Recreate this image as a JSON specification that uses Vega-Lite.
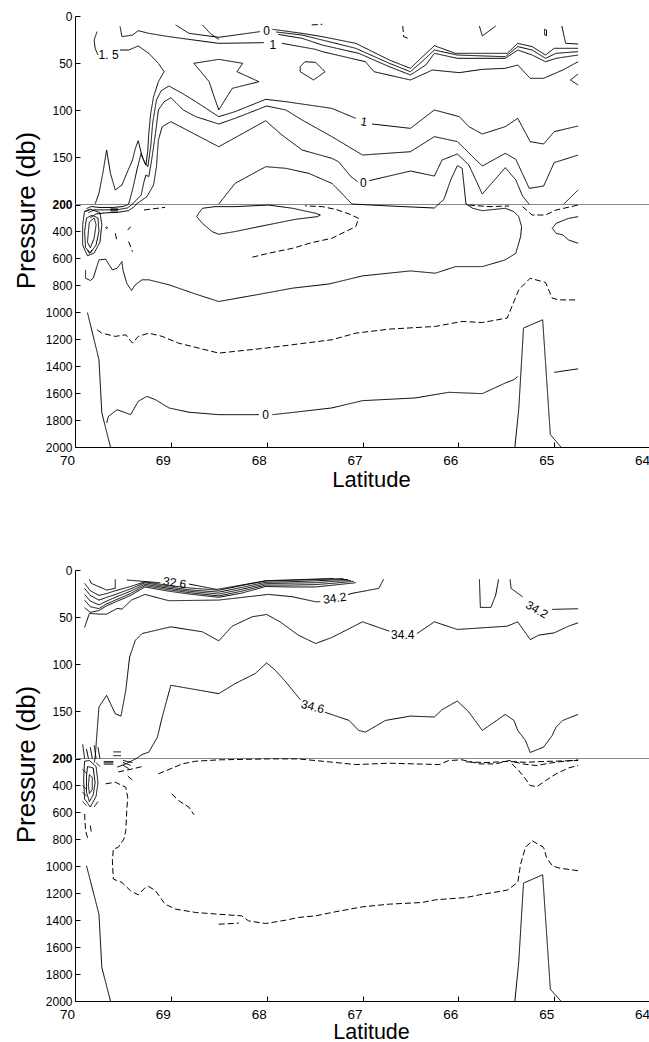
{
"$schema":"https://vega.github.io/schema/vega-lite/v6.json",
"background":"white",
"padding":{"left":13,"top":10,"right":0,"bottom":0},
"config":{"view":{"stroke":null},"font":"Liberation Sans","axis":{"labelFont":"Liberation Sans","titleFont":"Liberation Sans","labelColor":"black","titleColor":"black","domainColor":"black","tickColor":"black","grid":false,"titleFontWeight":"normal","labelFlush":false,"labelOverlap":false,"labelBound":false}},
"datasets":{
"t":[
{"c":"a","s":"a","x":69.77,"y":16.6},{"c":"a","s":"a","x":69.80,"y":25.5},{"c":"a","s":"a","x":69.79,"y":34.3},{"c":"a","s":"a","x":69.76,"y":41.4},
{"c":"b","s":"a","x":69.53,"y":36.1},{"c":"b","s":"a","x":69.44,"y":36.1},{"c":"b","s":"a","x":69.34,"y":31.8},{"c":"b","s":"a","x":69.23,"y":39.6},{"c":"b","s":"a","x":69.13,"y":50.2},{"c":"b","s":"a","x":69.07,"y":59.1},{"c":"b","s":"a","x":69.13,"y":69.7},{"c":"b","s":"a","x":69.18,"y":85.6},{"c":"b","s":"a","x":69.21,"y":103.3},{"c":"b","s":"a","x":69.23,"y":124.5},{"c":"b","s":"a","x":69.24,"y":142.2},{"c":"b","s":"a","x":69.26,"y":158.1},{"c":"b","s":"a","x":69.30,"y":149.3},{"c":"b","s":"a","x":69.34,"y":132.3},{"c":"b","s":"a","x":69.37,"y":140.4},{"c":"b","s":"a","x":69.40,"y":152.8},{"c":"b","s":"a","x":69.46,"y":167},{"c":"b","s":"a","x":69.51,"y":179.3},{"c":"b","s":"a","x":69.58,"y":184.6},{"c":"b","s":"a","x":69.63,"y":167},{"c":"b","s":"a","x":69.67,"y":142.2},{"c":"b","s":"a","x":69.71,"y":167},{"c":"b","s":"a","x":69.75,"y":188},{"c":"b","s":"a","x":69.79,"y":199.5},
{"c":"c","s":"a","x":69.44,"y":199.5},{"c":"c","s":"a","x":69.40,"y":184.6},{"c":"c","s":"a","x":69.35,"y":161.6},{"c":"c","s":"a","x":69.31,"y":145.7},{"c":"c","s":"a","x":69.27,"y":156.3},{"c":"c","s":"a","x":69.24,"y":159.9},{"c":"c","s":"a","x":69.21,"y":138.7},{"c":"c","s":"a","x":69.19,"y":113.9},{"c":"c","s":"a","x":69.15,"y":89.1},{"c":"c","s":"a","x":69.10,"y":79.2},{"c":"c","s":"a","x":69.02,"y":74.3},{"c":"c","s":"a","x":68.88,"y":82.1},{"c":"c","s":"a","x":68.74,"y":90.9},{"c":"c","s":"a","x":68.50,"y":106.8},{"c":"c","s":"a","x":68.33,"y":101.5},{"c":"c","s":"a","x":68.01,"y":88.4},{"c":"c","s":"a","x":67.80,"y":90.9},{"c":"c","s":"a","x":67.32,"y":98},{"c":"c","s":"a","x":67.07,"y":108.6},
{"c":"c2","s":"a","x":66.90,"y":114.6},{"c":"c2","s":"a","x":66.50,"y":119.2},{"c":"c2","s":"a","x":66.25,"y":99.7},{"c":"c2","s":"a","x":65.99,"y":106.8},{"c":"c2","s":"a","x":65.89,"y":117.4},{"c":"c2","s":"a","x":65.75,"y":125.2},{"c":"c2","s":"a","x":65.51,"y":117.4},{"c":"c2","s":"a","x":65.38,"y":108.6},{"c":"c2","s":"a","x":65.25,"y":133.3},{"c":"c2","s":"a","x":65.11,"y":135.8},{"c":"c2","s":"a","x":65.00,"y":122.7},{"c":"c2","s":"a","x":64.75,"y":116.7},
{"c":"d","s":"a","x":69.40,"y":199.5},{"c":"d","s":"a","x":69.31,"y":190},{"c":"d","s":"a","x":69.28,"y":175.8},{"c":"d","s":"a","x":69.26,"y":168.7},{"c":"d","s":"a","x":69.23,"y":170.5},{"c":"d","s":"a","x":69.20,"y":152.8},{"c":"d","s":"a","x":69.16,"y":124.5},{"c":"d","s":"a","x":69.13,"y":99.7},{"c":"d","s":"a","x":69.07,"y":90.9},{"c":"d","s":"a","x":69.00,"y":86.7},{"c":"d","s":"a","x":68.87,"y":99.7},{"c":"d","s":"a","x":68.74,"y":106.8},{"c":"d","s":"a","x":68.50,"y":114.6},{"c":"d","s":"a","x":68.33,"y":108.6},{"c":"d","s":"a","x":68.00,"y":95.5},{"c":"d","s":"a","x":67.80,"y":99.7},{"c":"d","s":"a","x":67.63,"y":110.4},{"c":"d","s":"a","x":67.32,"y":128},{"c":"d","s":"a","x":67.00,"y":147.5},{"c":"d","s":"a","x":66.50,"y":144},{"c":"d","s":"a","x":66.25,"y":128},{"c":"d","s":"a","x":66.01,"y":133.3},{"c":"d","s":"a","x":65.75,"y":159.2},{"c":"d","s":"a","x":65.51,"y":145.7},{"c":"d","s":"a","x":65.40,"y":152.1},{"c":"d","s":"a","x":65.26,"y":182.9},{"c":"d","s":"a","x":65.11,"y":180.4},{"c":"d","s":"a","x":65.00,"y":155.6},{"c":"d","s":"a","x":64.75,"y":147.5},
{"c":"e","s":"a","x":69.36,"y":199.5},{"c":"e","s":"a","x":69.25,"y":191.7},{"c":"e","s":"a","x":69.21,"y":184.6},{"c":"e","s":"a","x":69.18,"y":179.3},{"c":"e","s":"a","x":69.15,"y":159.9},{"c":"e","s":"a","x":69.13,"y":131.6},{"c":"e","s":"a","x":69.09,"y":117.4},{"c":"e","s":"a","x":69.00,"y":112.1},{"c":"e","s":"a","x":68.50,"y":138.7},{"c":"e","s":"a","x":68.01,"y":111.1},{"c":"e","s":"a","x":67.84,"y":126.3},{"c":"e","s":"a","x":67.63,"y":142.2},{"c":"e","s":"a","x":67.32,"y":151},{"c":"e","s":"a","x":67.25,"y":154.6},{"c":"e","s":"a","x":67.12,"y":170.5},{"c":"e","s":"a","x":67.05,"y":175.8},
{"c":"e2","s":"a","x":66.93,"y":174.7},{"c":"e2","s":"a","x":66.50,"y":164.5},{"c":"e2","s":"a","x":66.25,"y":169.8},{"c":"e2","s":"a","x":66.17,"y":152.8},{"c":"e2","s":"a","x":66.01,"y":146.4},{"c":"e2","s":"a","x":65.89,"y":158.1},{"c":"e2","s":"a","x":65.75,"y":188.9},{"c":"e2","s":"a","x":65.51,"y":160.9},{"c":"e2","s":"a","x":65.40,"y":174},{"c":"e2","s":"a","x":65.33,"y":191},{"c":"e2","s":"a","x":65.26,"y":199.9},
{"c":"f","s":"a","x":64.90,"y":199.5},{"c":"f","s":"a","x":64.75,"y":184.6},
{"c":"g","s":"a","x":68.50,"y":199.5},{"c":"g","s":"a","x":68.33,"y":177.6},{"c":"g","s":"a","x":68.01,"y":159.9},{"c":"g","s":"a","x":67.80,"y":161.6},{"c":"g","s":"a","x":67.56,"y":167},{"c":"g","s":"a","x":67.32,"y":177.6},{"c":"g","s":"a","x":67.25,"y":184.6},{"c":"g","s":"a","x":67.11,"y":199.5},{"c":"g","s":"a","x":66.72,"y":211},{"c":"g","s":"a","x":66.25,"y":226},{"c":"g","s":"a","x":66.15,"y":194.5},{"c":"g","s":"a","x":66.08,"y":174},{"c":"g","s":"a","x":66.01,"y":158.8},{"c":"g","s":"a","x":65.96,"y":161.6},{"c":"g","s":"a","x":65.92,"y":199.5},{"c":"g","s":"a","x":65.85,"y":228},{"c":"g","s":"a","x":65.75,"y":246},{"c":"g","s":"a","x":65.51,"y":228},{"c":"g","s":"a","x":65.42,"y":253},{"c":"g","s":"a","x":65.37,"y":290},{"c":"g","s":"a","x":65.34,"y":364},{"c":"g","s":"a","x":65.35,"y":438},{"c":"g","s":"a","x":65.40,"y":562},{"c":"g","s":"a","x":65.51,"y":611},{"c":"g","s":"a","x":65.75,"y":661},{"c":"g","s":"a","x":66.03,"y":661},{"c":"g","s":"a","x":66.24,"y":710},{"c":"g","s":"a","x":66.50,"y":693},{"c":"g","s":"a","x":67.00,"y":730},{"c":"g","s":"a","x":67.35,"y":790},{"c":"g","s":"a","x":67.73,"y":821},{"c":"g","s":"a","x":68.05,"y":863},{"c":"g","s":"a","x":68.50,"y":920},{"c":"g","s":"a","x":68.74,"y":865},{"c":"g","s":"a","x":69.02,"y":796},{"c":"g","s":"a","x":69.23,"y":759},{"c":"g","s":"a","x":69.30,"y":759},{"c":"g","s":"a","x":69.37,"y":796},{"c":"g","s":"a","x":69.41,"y":838},{"c":"g","s":"a","x":69.46,"y":784},{"c":"g","s":"a","x":69.50,"y":685},{"c":"g","s":"a","x":69.51,"y":624},{"c":"g","s":"a","x":69.56,"y":673},{"c":"g","s":"a","x":69.61,"y":685},{"c":"g","s":"a","x":69.68,"y":606},{"c":"g","s":"a","x":69.75,"y":611},{"c":"g","s":"a","x":69.81,"y":747},{"c":"g","s":"a","x":69.84,"y":764},{"c":"g","s":"a","x":69.89,"y":747},{"c":"g","s":"a","x":69.89,"y":685},
{"c":"h","s":"a","x":68.71,"y":265},{"c":"h","s":"a","x":68.67,"y":228},{"c":"h","s":"a","x":68.54,"y":216},{"c":"h","s":"a","x":68.33,"y":216},{"c":"h","s":"a","x":67.98,"y":204},{"c":"h","s":"a","x":67.73,"y":228},{"c":"h","s":"a","x":67.49,"y":265},{"c":"h","s":"a","x":67.44,"y":278},{"c":"h","s":"a","x":67.47,"y":290},{"c":"h","s":"a","x":67.70,"y":310},{"c":"h","s":"a","x":67.91,"y":340},{"c":"h","s":"a","x":68.08,"y":364},{"c":"h","s":"a","x":68.33,"y":401},{"c":"h","s":"a","x":68.50,"y":421},{"c":"h","s":"a","x":68.57,"y":401},{"c":"h","s":"a","x":68.67,"y":340},{"c":"h","s":"a","x":68.73,"y":290},{"c":"h","s":"a","x":68.71,"y":265},
{"c":"i","s":"b","x":68.15,"y":591},{"c":"i","s":"b","x":67.98,"y":562},{"c":"i","s":"b","x":67.73,"y":525},{"c":"i","s":"b","x":67.53,"y":483},{"c":"i","s":"b","x":67.32,"y":451},{"c":"i","s":"b","x":67.25,"y":426},{"c":"i","s":"b","x":67.07,"y":364},{"c":"i","s":"b","x":67.04,"y":303},{"c":"i","s":"b","x":67.14,"y":270},{"c":"i","s":"b","x":67.28,"y":236},{"c":"i","s":"b","x":67.42,"y":216},{"c":"i","s":"b","x":67.60,"y":210},
{"c":"j","s":"b","x":69.28,"y":241},{"c":"j","s":"b","x":69.06,"y":221},
{"c":"j2","s":"b","x":69.58,"y":414},{"c":"j2","s":"b","x":69.56,"y":476},
{"c":"j3","s":"b","x":69.45,"y":390},{"c":"j3","s":"b","x":69.42,"y":365},
{"c":"j4","s":"b","x":69.44,"y":475},{"c":"j4","s":"b","x":69.40,"y":550},
{"c":"j5","s":"b","x":69.89,"y":253},{"c":"j5","s":"b","x":69.84,"y":236},
{"c":"k","s":"a","x":64.75,"y":290},{"c":"k","s":"a","x":64.85,"y":303},{"c":"k","s":"a","x":64.98,"y":340},{"c":"k","s":"a","x":65.02,"y":377},{"c":"k","s":"a","x":64.98,"y":414},{"c":"k","s":"a","x":64.91,"y":426},{"c":"k","s":"a","x":64.85,"y":463},{"c":"k","s":"a","x":64.75,"y":488},
{"c":"l","s":"b","x":65.33,"y":216},{"c":"l","s":"b","x":65.23,"y":278},{"c":"l","s":"b","x":65.09,"y":278},{"c":"l","s":"b","x":64.98,"y":241},{"c":"l","s":"b","x":64.75,"y":204},
{"c":"m","s":"b","x":65.89,"y":204},{"c":"m","s":"b","x":65.68,"y":216},{"c":"m","s":"b","x":65.47,"y":211},
{"c":"n","s":"b","x":69.77,"y":1130},{"c":"n","s":"b","x":69.72,"y":1155},{"c":"n","s":"b","x":69.58,"y":1179},{"c":"n","s":"b","x":69.47,"y":1167},{"c":"n","s":"b","x":69.40,"y":1229},{"c":"n","s":"b","x":69.34,"y":1179},{"c":"n","s":"b","x":69.23,"y":1155},{"c":"n","s":"b","x":69.09,"y":1179},{"c":"n","s":"b","x":68.92,"y":1229},{"c":"n","s":"b","x":68.50,"y":1303},{"c":"n","s":"b","x":68.01,"y":1266},{"c":"n","s":"b","x":67.32,"y":1204},{"c":"n","s":"b","x":67.07,"y":1155},{"c":"n","s":"b","x":66.72,"y":1125},{"c":"n","s":"b","x":66.24,"y":1105},{"c":"n","s":"b","x":65.96,"y":1068},{"c":"n","s":"b","x":65.75,"y":1076},{"c":"n","s":"b","x":65.49,"y":1043},{"c":"n","s":"b","x":65.37,"y":834},{"c":"n","s":"b","x":65.25,"y":747},{"c":"n","s":"b","x":65.09,"y":779},{"c":"n","s":"b","x":65.02,"y":895},{"c":"n","s":"b","x":64.95,"y":908},{"c":"n","s":"b","x":64.75,"y":908},
{"c":"o","s":"a","x":69.67,"y":1822},{"c":"o","s":"a","x":69.65,"y":1772},{"c":"o","s":"a","x":69.56,"y":1723},{"c":"o","s":"a","x":69.47,"y":1747},{"c":"o","s":"a","x":69.42,"y":1760},{"c":"o","s":"a","x":69.34,"y":1661},{"c":"o","s":"a","x":69.25,"y":1624},{"c":"o","s":"a","x":69.16,"y":1649},{"c":"o","s":"a","x":69.02,"y":1710},{"c":"o","s":"a","x":68.81,"y":1742},{"c":"o","s":"a","x":68.50,"y":1760},{"c":"o","s":"a","x":68.08,"y":1760},
{"c":"o2","s":"a","x":67.94,"y":1760},{"c":"o2","s":"a","x":67.77,"y":1747},{"c":"o2","s":"a","x":67.32,"y":1710},{"c":"o2","s":"a","x":67.00,"y":1656},{"c":"o2","s":"a","x":66.45,"y":1636},{"c":"o2","s":"a","x":66.10,"y":1594},{"c":"o2","s":"a","x":65.75,"y":1604},{"c":"o2","s":"a","x":65.51,"y":1525},{"c":"o2","s":"a","x":65.42,"y":1500},{"c":"o2","s":"a","x":65.38,"y":1476},
{"c":"p","s":"a","x":69.87,"y":1002},{"c":"p","s":"a","x":69.75,"y":1352},{"c":"p","s":"a","x":69.72,"y":1747},{"c":"p","s":"a","x":69.63,"y":2000},
{"c":"q","s":"a","x":65.41,"y":2000},{"c":"q","s":"a","x":65.37,"y":1723},{"c":"q","s":"a","x":65.32,"y":1117},{"c":"q","s":"a","x":65.12,"y":1056},{"c":"q","s":"a","x":65.04,"y":1908},{"c":"q","s":"a","x":64.93,"y":2000},
{"c":"r","s":"a","x":65.00,"y":1446},{"c":"r","s":"a","x":64.85,"y":1430},{"c":"r","s":"a","x":64.75,"y":1420},
{"c":"s","s":"a","x":68.95,"y":9.5},{"c":"s","s":"a","x":68.81,"y":18.4},{"c":"s","s":"a","x":68.50,"y":22.6},{"c":"s","s":"a","x":68.07,"y":16.6},
{"c":"s2","s":"a","x":67.94,"y":14.1},{"c":"s2","s":"a","x":67.63,"y":18.4},{"c":"s2","s":"a","x":67.42,"y":21.9},{"c":"s2","s":"a","x":67.07,"y":29},{"c":"s2","s":"a","x":66.72,"y":46.7},{"c":"s2","s":"a","x":66.50,"y":55.5},{"c":"s2","s":"a","x":66.41,"y":46.7},{"c":"s2","s":"a","x":66.25,"y":31.5},{"c":"s2","s":"a","x":66.03,"y":39.6},{"c":"s2","s":"a","x":65.49,"y":39.6},{"c":"s2","s":"a","x":65.38,"y":29},{"c":"s2","s":"a","x":65.23,"y":32.5},{"c":"s2","s":"a","x":65.09,"y":41.4},{"c":"s2","s":"a","x":65.00,"y":34.3},{"c":"s2","s":"a","x":64.75,"y":34.3},
{"c":"u","s":"a","x":67.90,"y":17},{"c":"u","s":"a","x":67.63,"y":20.2},{"c":"u","s":"a","x":67.42,"y":25.5},{"c":"u","s":"a","x":67.07,"y":34.3},{"c":"u","s":"a","x":66.72,"y":50.2},{"c":"u","s":"a","x":66.50,"y":59.1},{"c":"u","s":"a","x":66.38,"y":48.5},{"c":"u","s":"a","x":66.25,"y":36.1},{"c":"u","s":"a","x":66.01,"y":41.4},{"c":"u","s":"a","x":65.51,"y":43.2},{"c":"u","s":"a","x":65.38,"y":32.5},{"c":"u","s":"a","x":65.23,"y":36.1},{"c":"u","s":"a","x":65.09,"y":44.9},{"c":"u","s":"a","x":64.98,"y":39.6},{"c":"u","s":"a","x":64.75,"y":37.8},
{"c":"v","s":"a","x":67.88,"y":19.5},{"c":"v","s":"a","x":67.63,"y":23.7},{"c":"v","s":"a","x":67.42,"y":30.8},{"c":"v","s":"a","x":67.04,"y":39.6},{"c":"v","s":"a","x":66.72,"y":53.8},{"c":"v","s":"a","x":66.50,"y":62.6},{"c":"v","s":"a","x":66.34,"y":52},{"c":"v","s":"a","x":66.25,"y":39.6},{"c":"v","s":"a","x":66.01,"y":44.9},{"c":"v","s":"a","x":65.51,"y":44.9},{"c":"v","s":"a","x":65.38,"y":36.1},{"c":"v","s":"a","x":65.23,"y":41.4},{"c":"v","s":"a","x":65.09,"y":48.5},{"c":"v","s":"a","x":64.98,"y":44.9},{"c":"v","s":"a","x":64.75,"y":41.4},
{"c":"w","s":"a","x":69.53,"y":11},{"c":"w","s":"a","x":69.51,"y":21.9},{"c":"w","s":"a","x":69.40,"y":20.2},{"c":"w","s":"a","x":69.34,"y":15.6},{"c":"w","s":"a","x":69.23,"y":18.4},{"c":"w","s":"a","x":69.02,"y":21.9},{"c":"w","s":"a","x":68.81,"y":24.8},{"c":"w","s":"a","x":68.50,"y":29},{"c":"w","s":"a","x":68.03,"y":28.3},
{"c":"w2","s":"a","x":67.84,"y":29},{"c":"w2","s":"a","x":67.49,"y":35.4},{"c":"w2","s":"a","x":67.42,"y":37.8},{"c":"w2","s":"a","x":66.97,"y":48.5},{"c":"w2","s":"a","x":66.88,"y":59.1},{"c":"w2","s":"a","x":66.50,"y":67.9},{"c":"w2","s":"a","x":66.27,"y":57.3},{"c":"w2","s":"a","x":65.99,"y":60.1},{"c":"w2","s":"a","x":65.75,"y":56.6},{"c":"w2","s":"a","x":65.51,"y":55.5},{"c":"w2","s":"a","x":65.38,"y":52},{"c":"w2","s":"a","x":65.25,"y":66.1},{"c":"w2","s":"a","x":65.11,"y":66.1},{"c":"w2","s":"a","x":64.91,"y":57.3},{"c":"w2","s":"a","x":64.75,"y":48.5},
{"c":"x","s":"a","x":68.67,"y":9.5},{"c":"x","s":"a","x":68.59,"y":18.4},{"c":"x","s":"a","x":68.50,"y":24.8},
{"c":"tri","s":"a","x":68.76,"y":50.2},{"c":"tri","s":"a","x":68.50,"y":46},{"c":"tri","s":"a","x":68.25,"y":50.2},{"c":"tri","s":"a","x":68.31,"y":59.1},{"c":"tri","s":"a","x":68.08,"y":69.7},{"c":"tri","s":"a","x":68.36,"y":76.8},{"c":"tri","s":"a","x":68.50,"y":99.7},{"c":"tri","s":"a","x":68.56,"y":82.1},{"c":"tri","s":"a","x":68.60,"y":69.7},{"c":"tri","s":"a","x":68.76,"y":50.2},
{"c":"lp","s":"a","x":67.65,"y":53.8},{"c":"lp","s":"a","x":67.60,"y":48.5},{"c":"lp","s":"a","x":67.49,"y":49.2},{"c":"lp","s":"a","x":67.39,"y":59.1},{"c":"lp","s":"a","x":67.51,"y":67.9},{"c":"lp","s":"a","x":67.65,"y":59.1},{"c":"lp","s":"a","x":67.65,"y":53.8},
{"c":"z","s":"b","x":67.53,"y":9.5},{"c":"z","s":"b","x":67.42,"y":8.8},
{"c":"aa","s":"b","x":66.58,"y":10.6},{"c":"aa","s":"b","x":66.57,"y":21.9},{"c":"aa","s":"b","x":66.50,"y":24.8},
{"c":"ab","s":"a","x":65.78,"y":10.6},{"c":"ab","s":"a","x":65.75,"y":21.2},{"c":"ab","s":"a","x":65.61,"y":10.6},
{"c":"ac","s":"a","x":65.10,"y":14},{"c":"ac","s":"a","x":65.08,"y":15},{"c":"ac","s":"a","x":65.08,"y":21},{"c":"ac","s":"a","x":65.10,"y":20},{"c":"ac","s":"a","x":65.10,"y":14},
{"c":"ad","s":"a","x":64.92,"y":10.6},{"c":"ad","s":"a","x":64.88,"y":29},{"c":"ad","s":"a","x":64.75,"y":29.7},
{"c":"ae","s":"a","x":64.75,"y":61.5},{"c":"ae","s":"a","x":64.83,"y":67.9},{"c":"ae","s":"a","x":64.75,"y":73.2},
{"c":"D1","s":"a","x":69.88,"y":230},{"c":"D1","s":"a","x":69.83,"y":215},{"c":"D1","s":"a","x":69.75,"y":222},{"c":"D1","s":"a","x":69.60,"y":222},{"c":"D1","s":"a","x":69.50,"y":215},{"c":"D1","s":"a","x":69.46,"y":205},{"c":"D1","s":"a","x":69.44,"y":199.5},
{"c":"D2","s":"a","x":69.86,"y":260},{"c":"D2","s":"a","x":69.80,"y":240},{"c":"D2","s":"a","x":69.70,"y":240},{"c":"D2","s":"a","x":69.55,"y":238},{"c":"D2","s":"a","x":69.45,"y":225},{"c":"D2","s":"a","x":69.40,"y":199.5},
{"c":"D3","s":"a","x":69.84,"y":300},{"c":"D3","s":"a","x":69.78,"y":270},{"c":"D3","s":"a","x":69.68,"y":262},{"c":"D3","s":"a","x":69.55,"y":258},{"c":"D3","s":"a","x":69.44,"y":245},{"c":"D3","s":"a","x":69.38,"y":215},{"c":"D3","s":"a","x":69.36,"y":199.5},
{"c":"D4","s":"a","x":69.85,"y":330},{"c":"D4","s":"a","x":69.80,"y":300},{"c":"D4","s":"a","x":69.78,"y":350},{"c":"D4","s":"a","x":69.80,"y":450},{"c":"D4","s":"a","x":69.84,"y":520},{"c":"D4","s":"a","x":69.87,"y":480},{"c":"D4","s":"a","x":69.86,"y":400},{"c":"D4","s":"a","x":69.85,"y":330},
{"c":"D5","s":"a","x":69.88,"y":300},{"c":"D5","s":"a","x":69.82,"y":280},{"c":"D5","s":"a","x":69.76,"y":300},{"c":"D5","s":"a","x":69.75,"y":400},{"c":"D5","s":"a","x":69.78,"y":500},{"c":"D5","s":"a","x":69.84,"y":560},{"c":"D5","s":"a","x":69.89,"y":520},{"c":"D5","s":"a","x":69.90,"y":400},{"c":"D5","s":"a","x":69.88,"y":300},
{"c":"D6","s":"a","x":69.90,"y":250},{"c":"D6","s":"a","x":69.84,"y":235},{"c":"D6","s":"a","x":69.74,"y":260},{"c":"D6","s":"a","x":69.72,"y":350},{"c":"D6","s":"a","x":69.74,"y":480},{"c":"D6","s":"a","x":69.80,"y":560},{"c":"D6","s":"a","x":69.87,"y":580},{"c":"D6","s":"a","x":69.92,"y":500},{"c":"D6","s":"a","x":69.92,"y":350},{"c":"D6","s":"a","x":69.90,"y":250},
{"c":"D7","s":"a","x":69.63,"y":232},{"c":"D7","s":"a","x":69.55,"y":232},
{"c":"D8","s":"a","x":69.63,"y":240},{"c":"D8","s":"a","x":69.55,"y":240},
{"c":"D9","s":"a","x":69.63,"y":248},{"c":"D9","s":"a","x":69.55,"y":248},
{"c":"dot","s":"a","x":69.67,"y":368},{"c":"dot","s":"a","x":69.66,"y":372},{"c":"dot","s":"a","x":69.67,"y":378},{"c":"dot","s":"a","x":69.68,"y":372},{"c":"dot","s":"a","x":69.67,"y":368},
{"c":"U","s":"a","x":69.87,"y":537},{"c":"U","s":"a","x":69.85,"y":562},{"c":"U","s":"a","x":69.82,"y":537}
],
"tl":[
{"x":69.65,"y":41.4,"t":"1. 5","a":0},
{"x":68.00,"y":15.5,"t":"0","a":0},
{"x":67.935,"y":30.5,"t":"1","a":0},
{"x":66.985,"y":112,"t":"1","a":10},
{"x":66.99,"y":177,"t":"0","a":0},
{"x":68.01,"y":1760,"t":"0","a":0}
],
"s":[
{"c":"h1","s":"a","x":69.85,"y":9.9},{"c":"h1","s":"a","x":69.83,"y":14.2},{"c":"h1","s":"a","x":69.75,"y":17.7},{"c":"h1","s":"a","x":69.67,"y":21.3},{"c":"h1","s":"a","x":69.58,"y":19.5},{"c":"h1","s":"a","x":69.58,"y":9.9},
{"c":"g1","s":"a","x":69.46,"y":10.6},{"c":"g1","s":"a","x":69.25,"y":12.4},{"c":"g1","s":"a","x":69.11,"y":13.5},
{"c":"g2","s":"a","x":68.81,"y":14.9},{"c":"g2","s":"a","x":68.52,"y":20.6},{"c":"g2","s":"a","x":68.00,"y":11.3},{"c":"g2","s":"a","x":67.47,"y":9.6},{"c":"g2","s":"a","x":67.30,"y":8.9},
{"c":"B1","s":"a","x":69.90,"y":14.2},{"c":"B1","s":"a","x":69.84,"y":22},{"c":"B1","s":"a","x":69.75,"y":27},{"c":"B1","s":"a","x":69.67,"y":25},{"c":"B1","s":"a","x":69.58,"y":22},{"c":"B1","s":"a","x":69.42,"y":17.5},{"c":"B1","s":"a","x":69.27,"y":12.5},{"c":"B1","s":"a","x":69.05,"y":16},{"c":"B1","s":"a","x":68.81,"y":19},{"c":"B1","s":"a","x":68.50,"y":21.5},{"c":"B1","s":"a","x":68.26,"y":16.5},{"c":"B1","s":"a","x":68.01,"y":11.5},{"c":"B1","s":"a","x":67.77,"y":11},{"c":"B1","s":"a","x":67.49,"y":10},{"c":"B1","s":"a","x":67.30,"y":9.5},{"c":"B1","s":"a","x":67.20,"y":9},
{"c":"B2","s":"a","x":69.90,"y":19.5},{"c":"B2","s":"a","x":69.84,"y":27},{"c":"B2","s":"a","x":69.75,"y":32},{"c":"B2","s":"a","x":69.67,"y":29},{"c":"B2","s":"a","x":69.58,"y":26},{"c":"B2","s":"a","x":69.42,"y":20},{"c":"B2","s":"a","x":69.27,"y":13.5},{"c":"B2","s":"a","x":69.05,"y":17.5},{"c":"B2","s":"a","x":68.81,"y":21},{"c":"B2","s":"a","x":68.50,"y":23.5},{"c":"B2","s":"a","x":68.26,"y":18.5},{"c":"B2","s":"a","x":68.01,"y":13},{"c":"B2","s":"a","x":67.77,"y":12.5},{"c":"B2","s":"a","x":67.49,"y":11.5},{"c":"B2","s":"a","x":67.30,"y":10.5},{"c":"B2","s":"a","x":67.15,"y":10},
{"c":"B3","s":"a","x":69.90,"y":26},{"c":"B3","s":"a","x":69.84,"y":33},{"c":"B3","s":"a","x":69.75,"y":37},{"c":"B3","s":"a","x":69.67,"y":33},{"c":"B3","s":"a","x":69.58,"y":29},{"c":"B3","s":"a","x":69.42,"y":22.5},{"c":"B3","s":"a","x":69.27,"y":15},{"c":"B3","s":"a","x":69.05,"y":19},{"c":"B3","s":"a","x":68.81,"y":22.5},{"c":"B3","s":"a","x":68.50,"y":25.5},{"c":"B3","s":"a","x":68.26,"y":20.5},{"c":"B3","s":"a","x":68.01,"y":14.5},{"c":"B3","s":"a","x":67.77,"y":14},{"c":"B3","s":"a","x":67.49,"y":13.5},{"c":"B3","s":"a","x":67.30,"y":12},{"c":"B3","s":"a","x":67.12,"y":11},
{"c":"B4","s":"a","x":69.90,"y":32},{"c":"B4","s":"a","x":69.84,"y":39},{"c":"B4","s":"a","x":69.75,"y":41},{"c":"B4","s":"a","x":69.67,"y":36},{"c":"B4","s":"a","x":69.58,"y":32},{"c":"B4","s":"a","x":69.42,"y":25},{"c":"B4","s":"a","x":69.27,"y":16.5},{"c":"B4","s":"a","x":69.05,"y":20.5},{"c":"B4","s":"a","x":68.81,"y":24},{"c":"B4","s":"a","x":68.50,"y":27.5},{"c":"B4","s":"a","x":68.26,"y":22.5},{"c":"B4","s":"a","x":68.01,"y":16},{"c":"B4","s":"a","x":67.77,"y":16},{"c":"B4","s":"a","x":67.49,"y":15.5},{"c":"B4","s":"a","x":67.30,"y":14},{"c":"B4","s":"a","x":67.09,"y":12},
{"c":"B5","s":"a","x":69.90,"y":40},{"c":"B5","s":"a","x":69.84,"y":45},{"c":"B5","s":"a","x":69.75,"y":43},{"c":"B5","s":"a","x":69.67,"y":38},{"c":"B5","s":"a","x":69.58,"y":34},{"c":"B5","s":"a","x":69.42,"y":27},{"c":"B5","s":"a","x":69.27,"y":18},{"c":"B5","s":"a","x":69.05,"y":22},{"c":"B5","s":"a","x":68.81,"y":25.5},{"c":"B5","s":"a","x":68.50,"y":29},{"c":"B5","s":"a","x":68.26,"y":24.5},{"c":"B5","s":"a","x":68.01,"y":17.5},{"c":"B5","s":"a","x":67.77,"y":18},{"c":"B5","s":"a","x":67.49,"y":18},{"c":"B5","s":"a","x":67.30,"y":16},{"c":"B5","s":"a","x":67.07,"y":13.5},
{"c":"k2a","s":"a","x":69.90,"y":61},{"c":"k2a","s":"a","x":69.85,"y":46.1},{"c":"k2a","s":"a","x":69.75,"y":46.8},{"c":"k2a","s":"a","x":69.67,"y":46.8},{"c":"k2a","s":"a","x":69.56,"y":40.8},{"c":"k2a","s":"a","x":69.51,"y":41.5},{"c":"k2a","s":"a","x":69.41,"y":31.9},{"c":"k2a","s":"a","x":69.27,"y":25.9},{"c":"k2a","s":"a","x":69.02,"y":32.6},{"c":"k2a","s":"a","x":68.50,"y":31.9},{"c":"k2a","s":"a","x":67.98,"y":25.9},{"c":"k2a","s":"a","x":67.73,"y":28.4},{"c":"k2a","s":"a","x":67.49,"y":33.7},{"c":"k2a","s":"a","x":67.44,"y":33.6},
{"c":"k2b","s":"a","x":67.15,"y":26},{"c":"k2b","s":"a","x":67.11,"y":24.8},{"c":"k2b","s":"a","x":66.83,"y":19.5},{"c":"k2b","s":"a","x":66.78,"y":9.9},
{"c":"k4a","s":"a","x":69.80,"y":230},{"c":"k4a","s":"a","x":69.79,"y":199.3},{"c":"k4a","s":"a","x":69.75,"y":145.4},{"c":"k4a","s":"a","x":69.67,"y":133},{"c":"k4a","s":"a","x":69.58,"y":152.5},{"c":"k4a","s":"a","x":69.52,"y":155},{"c":"k4a","s":"a","x":69.47,"y":127.7},{"c":"k4a","s":"a","x":69.43,"y":92.2},{"c":"k4a","s":"a","x":69.37,"y":74.5},{"c":"k4a","s":"a","x":69.30,"y":67.4},{"c":"k4a","s":"a","x":69.00,"y":60.3},{"c":"k4a","s":"a","x":68.67,"y":65.6},{"c":"k4a","s":"a","x":68.50,"y":75.2},{"c":"k4a","s":"a","x":68.43,"y":67.4},{"c":"k4a","s":"a","x":68.36,"y":59.6},{"c":"k4a","s":"a","x":68.15,"y":49.6},{"c":"k4a","s":"a","x":68.00,"y":47.2},{"c":"k4a","s":"a","x":67.86,"y":55},{"c":"k4a","s":"a","x":67.67,"y":69.1},{"c":"k4a","s":"a","x":67.49,"y":78},{"c":"k4a","s":"a","x":67.32,"y":71.6},{"c":"k4a","s":"a","x":67.00,"y":55},{"c":"k4a","s":"a","x":66.72,"y":64.9},
{"c":"k4b","s":"a","x":66.43,"y":67.4},{"c":"k4b","s":"a","x":66.25,"y":55},{"c":"k4b","s":"a","x":66.01,"y":63.1},{"c":"k4b","s":"a","x":65.49,"y":59.6},{"c":"k4b","s":"a","x":65.38,"y":55},{"c":"k4b","s":"a","x":65.25,"y":73.8},{"c":"k4b","s":"a","x":65.16,"y":69.1},{"c":"k4b","s":"a","x":65.00,"y":66.7},{"c":"k4b","s":"a","x":64.85,"y":59.6},{"c":"k4b","s":"a","x":64.75,"y":56},
{"c":"k6a","s":"a","x":69.56,"y":264},{"c":"k6a","s":"a","x":69.47,"y":240},{"c":"k6a","s":"a","x":69.40,"y":215},{"c":"k6a","s":"a","x":69.36,"y":200},{"c":"k6a","s":"a","x":69.30,"y":195.7},{"c":"k6a","s":"a","x":69.23,"y":193.3},{"c":"k6a","s":"a","x":69.14,"y":177.3},{"c":"k6a","s":"a","x":69.09,"y":156},{"c":"k6a","s":"a","x":69.00,"y":122.3},{"c":"k6a","s":"a","x":68.50,"y":131.2},{"c":"k6a","s":"a","x":68.33,"y":120.6},{"c":"k6a","s":"a","x":68.12,"y":109.9},{"c":"k6a","s":"a","x":68.00,"y":98.6},{"c":"k6a","s":"a","x":67.91,"y":106.4},{"c":"k6a","s":"a","x":67.80,"y":118.8},{"c":"k6a","s":"a","x":67.70,"y":131.2},{"c":"k6a","s":"a","x":67.65,"y":137.6},
{"c":"k6b","s":"a","x":67.39,"y":151},{"c":"k6b","s":"a","x":67.14,"y":159.6},{"c":"k6b","s":"a","x":67.04,"y":170.2},{"c":"k6b","s":"a","x":66.97,"y":172},{"c":"k6b","s":"a","x":66.76,"y":159.6},{"c":"k6b","s":"a","x":66.50,"y":155},{"c":"k6b","s":"a","x":66.25,"y":156},{"c":"k6b","s":"a","x":66.17,"y":148.2},{"c":"k6b","s":"a","x":66.01,"y":139},{"c":"k6b","s":"a","x":65.89,"y":150.7},{"c":"k6b","s":"a","x":65.75,"y":170.2},{"c":"k6b","s":"a","x":65.51,"y":153.2},{"c":"k6b","s":"a","x":65.42,"y":159.6},{"c":"k6b","s":"a","x":65.38,"y":170.2},{"c":"k6b","s":"a","x":65.30,"y":180.8},{"c":"k6b","s":"a","x":65.25,"y":193.6},{"c":"k6b","s":"a","x":65.11,"y":187.9},{"c":"k6b","s":"a","x":65.02,"y":175.5},{"c":"k6b","s":"a","x":64.98,"y":166.7},{"c":"k6b","s":"a","x":64.91,"y":159.6},{"c":"k6b","s":"a","x":64.75,"y":153.2},
{"c":"sU","s":"a","x":65.78,"y":9.9},{"c":"sU","s":"a","x":65.77,"y":39.7},{"c":"sU","s":"a","x":65.66,"y":39.7},{"c":"sU","s":"a","x":65.61,"y":26.6},{"c":"sU","s":"a","x":65.58,"y":9.9},
{"c":"r1","s":"a","x":65.46,"y":9.9},{"c":"r1","s":"a","x":65.45,"y":19.5},{"c":"r1","s":"a","x":65.33,"y":28.4},
{"c":"r2","s":"a","x":65.02,"y":41.8},{"c":"r2","s":"a","x":64.75,"y":41.1},
{"c":"st","s":"a","x":69.88,"y":996},{"c":"st","s":"a","x":69.75,"y":1356},{"c":"st","s":"a","x":69.72,"y":1752},{"c":"st","s":"a","x":69.63,"y":2000},
{"c":"sea","s":"a","x":65.41,"y":2000},{"c":"sea","s":"a","x":65.37,"y":1715},{"c":"sea","s":"a","x":65.32,"y":1125},{"c":"sea","s":"a","x":65.12,"y":1063},{"c":"sea","s":"a","x":65.04,"y":1913},{"c":"sea","s":"a","x":64.93,"y":2000},
{"c":"bd","s":"b","x":69.68,"y":388},{"c":"bd","s":"b","x":69.58,"y":376},{"c":"bd","s":"b","x":69.47,"y":413},{"c":"bd","s":"b","x":69.45,"y":488},{"c":"bd","s":"b","x":69.46,"y":587},{"c":"bd","s":"b","x":69.47,"y":736},{"c":"bd","s":"b","x":69.49,"y":798},{"c":"bd","s":"b","x":69.55,"y":860},{"c":"bd","s":"b","x":69.60,"y":872},{"c":"bd","s":"b","x":69.61,"y":959},{"c":"bd","s":"b","x":69.60,"y":1095},{"c":"bd","s":"b","x":69.51,"y":1120},{"c":"bd","s":"b","x":69.42,"y":1182},{"c":"bd","s":"b","x":69.34,"y":1212},{"c":"bd","s":"b","x":69.27,"y":1160},{"c":"bd","s":"b","x":69.23,"y":1150},{"c":"bd","s":"b","x":69.16,"y":1182},{"c":"bd","s":"b","x":69.06,"y":1281},{"c":"bd","s":"b","x":68.95,"y":1318},{"c":"bd","s":"b","x":68.74,"y":1343},{"c":"bd","s":"b","x":68.50,"y":1356},{"c":"bd","s":"b","x":68.26,"y":1368},{"c":"bd","s":"b","x":68.19,"y":1405},{"c":"bd","s":"b","x":68.01,"y":1425},{"c":"bd","s":"b","x":67.80,"y":1400},{"c":"bd","s":"b","x":67.67,"y":1380},{"c":"bd","s":"b","x":67.49,"y":1368},{"c":"bd","s":"b","x":67.32,"y":1343},{"c":"bd","s":"b","x":67.00,"y":1301},{"c":"bd","s":"b","x":66.72,"y":1281},{"c":"bd","s":"b","x":66.38,"y":1269},{"c":"bd","s":"b","x":66.24,"y":1249},{"c":"bd","s":"b","x":65.92,"y":1232},{"c":"bd","s":"b","x":65.78,"y":1212},{"c":"bd","s":"b","x":65.49,"y":1177},{"c":"bd","s":"b","x":65.38,"y":1120},{"c":"bd","s":"b","x":65.35,"y":984},{"c":"bd","s":"b","x":65.30,"y":860},{"c":"bd","s":"b","x":65.23,"y":810},{"c":"bd","s":"b","x":65.11,"y":860},{"c":"bd","s":"b","x":65.08,"y":934},{"c":"bd","s":"b","x":65.02,"y":996},{"c":"bd","s":"b","x":64.95,"y":1013},{"c":"bd","s":"b","x":64.75,"y":1033},
{"c":"bd2","s":"b","x":68.50,"y":1430},{"c":"bd2","s":"b","x":68.29,"y":1422},
{"c":"d2","s":"b","x":68.99,"y":463},{"c":"d2","s":"b","x":68.92,"y":512},{"c":"d2","s":"b","x":68.81,"y":562},{"c":"d2","s":"b","x":68.76,"y":617},
{"c":"d3","s":"b","x":69.90,"y":612},{"c":"d3","s":"b","x":69.89,"y":736},{"c":"d3","s":"b","x":69.86,"y":810},
{"c":"d4","s":"b","x":69.84,"y":698},{"c":"d4","s":"b","x":69.83,"y":748},
{"c":"tp1","s":"b","x":69.13,"y":314},{"c":"tp1","s":"b","x":68.88,"y":240},{"c":"tp1","s":"b","x":68.74,"y":220},{"c":"tp1","s":"b","x":68.50,"y":210},{"c":"tp1","s":"b","x":67.98,"y":203},{"c":"tp1","s":"b","x":67.67,"y":203},{"c":"tp1","s":"b","x":67.32,"y":227},{"c":"tp1","s":"b","x":67.07,"y":245},{"c":"tp1","s":"b","x":66.72,"y":235},{"c":"tp1","s":"b","x":66.20,"y":245},{"c":"tp1","s":"b","x":66.10,"y":215},{"c":"tp1","s":"b","x":65.96,"y":210},{"c":"tp1","s":"b","x":65.78,"y":240},{"c":"tp1","s":"b","x":65.61,"y":240},{"c":"tp1","s":"b","x":65.47,"y":215},{"c":"tp1","s":"b","x":65.33,"y":240},{"c":"tp1","s":"b","x":65.19,"y":252},{"c":"tp1","s":"b","x":64.98,"y":227},{"c":"tp1","s":"b","x":64.75,"y":210},
{"c":"tp2","s":"b","x":65.92,"y":225},{"c":"tp2","s":"b","x":65.70,"y":230},{"c":"tp2","s":"b","x":65.50,"y":222},{"c":"tp2","s":"b","x":65.30,"y":228},{"c":"tp2","s":"b","x":65.10,"y":222},{"c":"tp2","s":"b","x":64.90,"y":218},{"c":"tp2","s":"b","x":64.75,"y":215},
{"c":"V","s":"b","x":65.44,"y":240},{"c":"V","s":"b","x":65.37,"y":289},{"c":"V","s":"b","x":65.30,"y":351},{"c":"V","s":"b","x":65.25,"y":401},{"c":"V","s":"b","x":65.18,"y":409},{"c":"V","s":"b","x":65.09,"y":364},{"c":"V","s":"b","x":64.98,"y":314},{"c":"V","s":"b","x":64.85,"y":270},{"c":"V","s":"b","x":64.75,"y":252},
{"c":"ld1","s":"b","x":69.55,"y":300},{"c":"ld1","s":"b","x":69.45,"y":285},{"c":"ld1","s":"b","x":69.37,"y":272},{"c":"ld1","s":"b","x":69.30,"y":260},
{"c":"ld2","s":"b","x":69.45,"y":330},{"c":"ld2","s":"b","x":69.40,"y":360},
{"c":"E1","s":"a","x":69.90,"y":220},{"c":"E1","s":"a","x":69.85,"y":215},{"c":"E1","s":"a","x":69.78,"y":260},{"c":"E1","s":"a","x":69.76,"y":380},{"c":"E1","s":"a","x":69.78,"y":480},{"c":"E1","s":"a","x":69.84,"y":560},{"c":"E1","s":"a","x":69.90,"y":500},{"c":"E1","s":"a","x":69.91,"y":350},{"c":"E1","s":"a","x":69.90,"y":220},
{"c":"E2","s":"a","x":69.87,"y":260},{"c":"E2","s":"a","x":69.81,"y":270},{"c":"E2","s":"a","x":69.79,"y":380},{"c":"E2","s":"a","x":69.81,"y":470},{"c":"E2","s":"a","x":69.85,"y":520},{"c":"E2","s":"a","x":69.88,"y":450},{"c":"E2","s":"a","x":69.88,"y":330},{"c":"E2","s":"a","x":69.87,"y":260},
{"c":"E3","s":"a","x":69.85,"y":320},{"c":"E3","s":"a","x":69.82,"y":340},{"c":"E3","s":"a","x":69.82,"y":430},{"c":"E3","s":"a","x":69.85,"y":460},{"c":"E3","s":"a","x":69.86,"y":400},{"c":"E3","s":"a","x":69.85,"y":320},
{"c":"E5","s":"a","x":69.70,"y":222},{"c":"E5","s":"a","x":69.60,"y":222},
{"c":"E6","s":"a","x":69.70,"y":232},{"c":"E6","s":"a","x":69.60,"y":232},
{"c":"E7","s":"a","x":69.70,"y":242},{"c":"E7","s":"a","x":69.60,"y":242},
{"c":"E8","s":"a","x":69.50,"y":215},{"c":"E8","s":"a","x":69.40,"y":230},
{"c":"E9","s":"a","x":69.50,"y":230},{"c":"E9","s":"a","x":69.42,"y":250},
{"c":"E10","s":"a","x":69.50,"y":250},{"c":"E10","s":"a","x":69.44,"y":275},
{"c":"F1","s":"a","x":69.92,"y":400},{"c":"F1","s":"a","x":69.88,"y":430},
{"c":"F2","s":"a","x":69.92,"y":450},{"c":"F2","s":"a","x":69.88,"y":480},
{"c":"F3","s":"a","x":69.92,"y":520},{"c":"F3","s":"a","x":69.88,"y":550},
{"c":"F4","s":"a","x":69.80,"y":560},{"c":"F4","s":"a","x":69.76,"y":520},
{"c":"F5","s":"a","x":69.78,"y":230},{"c":"F5","s":"a","x":69.74,"y":260},
{"c":"F6","s":"a","x":69.92,"y":280},{"c":"F6","s":"a","x":69.88,"y":310},
{"c":"H1","s":"a","x":69.88,"y":190},{"c":"H1","s":"a","x":69.86,"y":200},
{"c":"H2","s":"a","x":69.84,"y":188},{"c":"H2","s":"a","x":69.82,"y":200},
{"c":"H3","s":"a","x":69.60,"y":193},{"c":"H3","s":"a","x":69.52,"y":193},
{"c":"H4","s":"a","x":69.60,"y":197},{"c":"H4","s":"a","x":69.52,"y":197},
{"c":"H5","s":"a","x":69.92,"y":185},{"c":"H5","s":"a","x":69.90,"y":200},
{"c":"H6","s":"a","x":69.80,"y":186},{"c":"H6","s":"a","x":69.78,"y":200},
{"c":"H7","s":"a","x":69.76,"y":188},{"c":"H7","s":"a","x":69.74,"y":200}
],
"sl":[
{"x":68.96,"y":13.5,"t":"32.6","a":8},
{"x":67.29,"y":30,"t":"34.2","a":-8},
{"x":66.58,"y":69,"t":"34.4","a":0},
{"x":67.52,"y":145,"t":"34.6","a":15},
{"x":65.18,"y":42,"t":"34.2","a":30}
],
"hl":[{"x":70,"x2":64,"y":200}]
},
"vconcat":[
{"width":575,"height":431,
"encoding":{
"x":{"field":"x","type":"quantitative","scale":{"domain":[64,70],"reverse":true,"nice":false,"zero":false},"axis":{"values":[70,69,68,67,66,65,64],"format":"d","title":"Latitude","titleFontSize":22,"titleX":296,"titleY":39,"titleBaseline":"alphabetic","titleAlign":"center","labelFontSize":13.5,"labelOffset":-8,"tickSize":-5,"labelPadding":11.5}},
"y":{"field":"y","type":"quantitative","scale":{"domain":[0,200,2000],"range":[0,188.5,431],"nice":false,"zero":false},"axis":{"values":[0,50,100,150,200,400,600,800,1000,1200,1400,1600,1800,2000],"format":"d","title":"Pressure (db)","titleFontSize":26,"titleX":-41,"titleY":194,"titleBaseline":"alphabetic","titleAlign":"center","labelFontSize":12,"labelFontWeight":{"condition":{"test":"datum.value === 200","value":"bold"},"value":"normal"},"tickSize":-5,"labelPadding":8}}
},
"layer":[
{"data":{"name":"hl"},"mark":{"type":"rule","color":"#888888","strokeWidth":1},"encoding":{"x2":{"field":"x2"}}},
{"data":{"name":"t"},"mark":{"type":"line","color":"black","strokeWidth":1},"encoding":{"detail":{"field":"c","type":"nominal"},"strokeDash":{"field":"s","type":"nominal","scale":{"domain":["a","b"],"range":[[1,0],[6,3]]},"legend":null},"order":{"value":null}}},
{"data":{"name":"tl"},"mark":{"type":"text","fontSize":12,"font":"Liberation Sans","color":"black"},"encoding":{"text":{"field":"t","type":"nominal"},"angle":{"field":"a","type":"quantitative","scale":null}}}
]},
{"width":575,"height":431,
"encoding":{
"x":{"field":"x","type":"quantitative","scale":{"domain":[64,70],"reverse":true,"nice":false,"zero":false},"axis":{"values":[70,69,68,67,66,65,64],"format":"d","title":"Latitude","titleFontSize":21.5,"titleX":296,"titleY":37.5,"titleBaseline":"alphabetic","titleAlign":"center","labelFontSize":13.5,"labelOffset":-8,"tickSize":-5,"labelPadding":11.5}},
"y":{"field":"y","type":"quantitative","scale":{"domain":[0,200,2000],"range":[0,188.5,431],"nice":false,"zero":false},"axis":{"values":[0,50,100,150,200,400,600,800,1000,1200,1400,1600,1800,2000],"format":"d","title":"Pressure (db)","titleFontSize":26,"titleX":-41,"titleY":194,"titleBaseline":"alphabetic","titleAlign":"center","labelFontSize":12,"labelFontWeight":{"condition":{"test":"datum.value === 200","value":"bold"},"value":"normal"},"tickSize":-5,"labelPadding":8}}
},
"layer":[
{"data":{"name":"hl"},"mark":{"type":"rule","color":"#888888","strokeWidth":1},"encoding":{"x2":{"field":"x2"}}},
{"data":{"name":"s"},"mark":{"type":"line","color":"black","strokeWidth":1},"encoding":{"detail":{"field":"c","type":"nominal"},"strokeDash":{"field":"s","type":"nominal","scale":{"domain":["a","b"],"range":[[1,0],[6,3]]},"legend":null},"order":{"value":null}}},
{"data":{"name":"sl"},"mark":{"type":"text","fontSize":12,"font":"Liberation Sans","color":"black"},"encoding":{"text":{"field":"t","type":"nominal"},"angle":{"field":"a","type":"quantitative","scale":null}}}
]}
],
"spacing":123,
"bounds":"flush"
}
